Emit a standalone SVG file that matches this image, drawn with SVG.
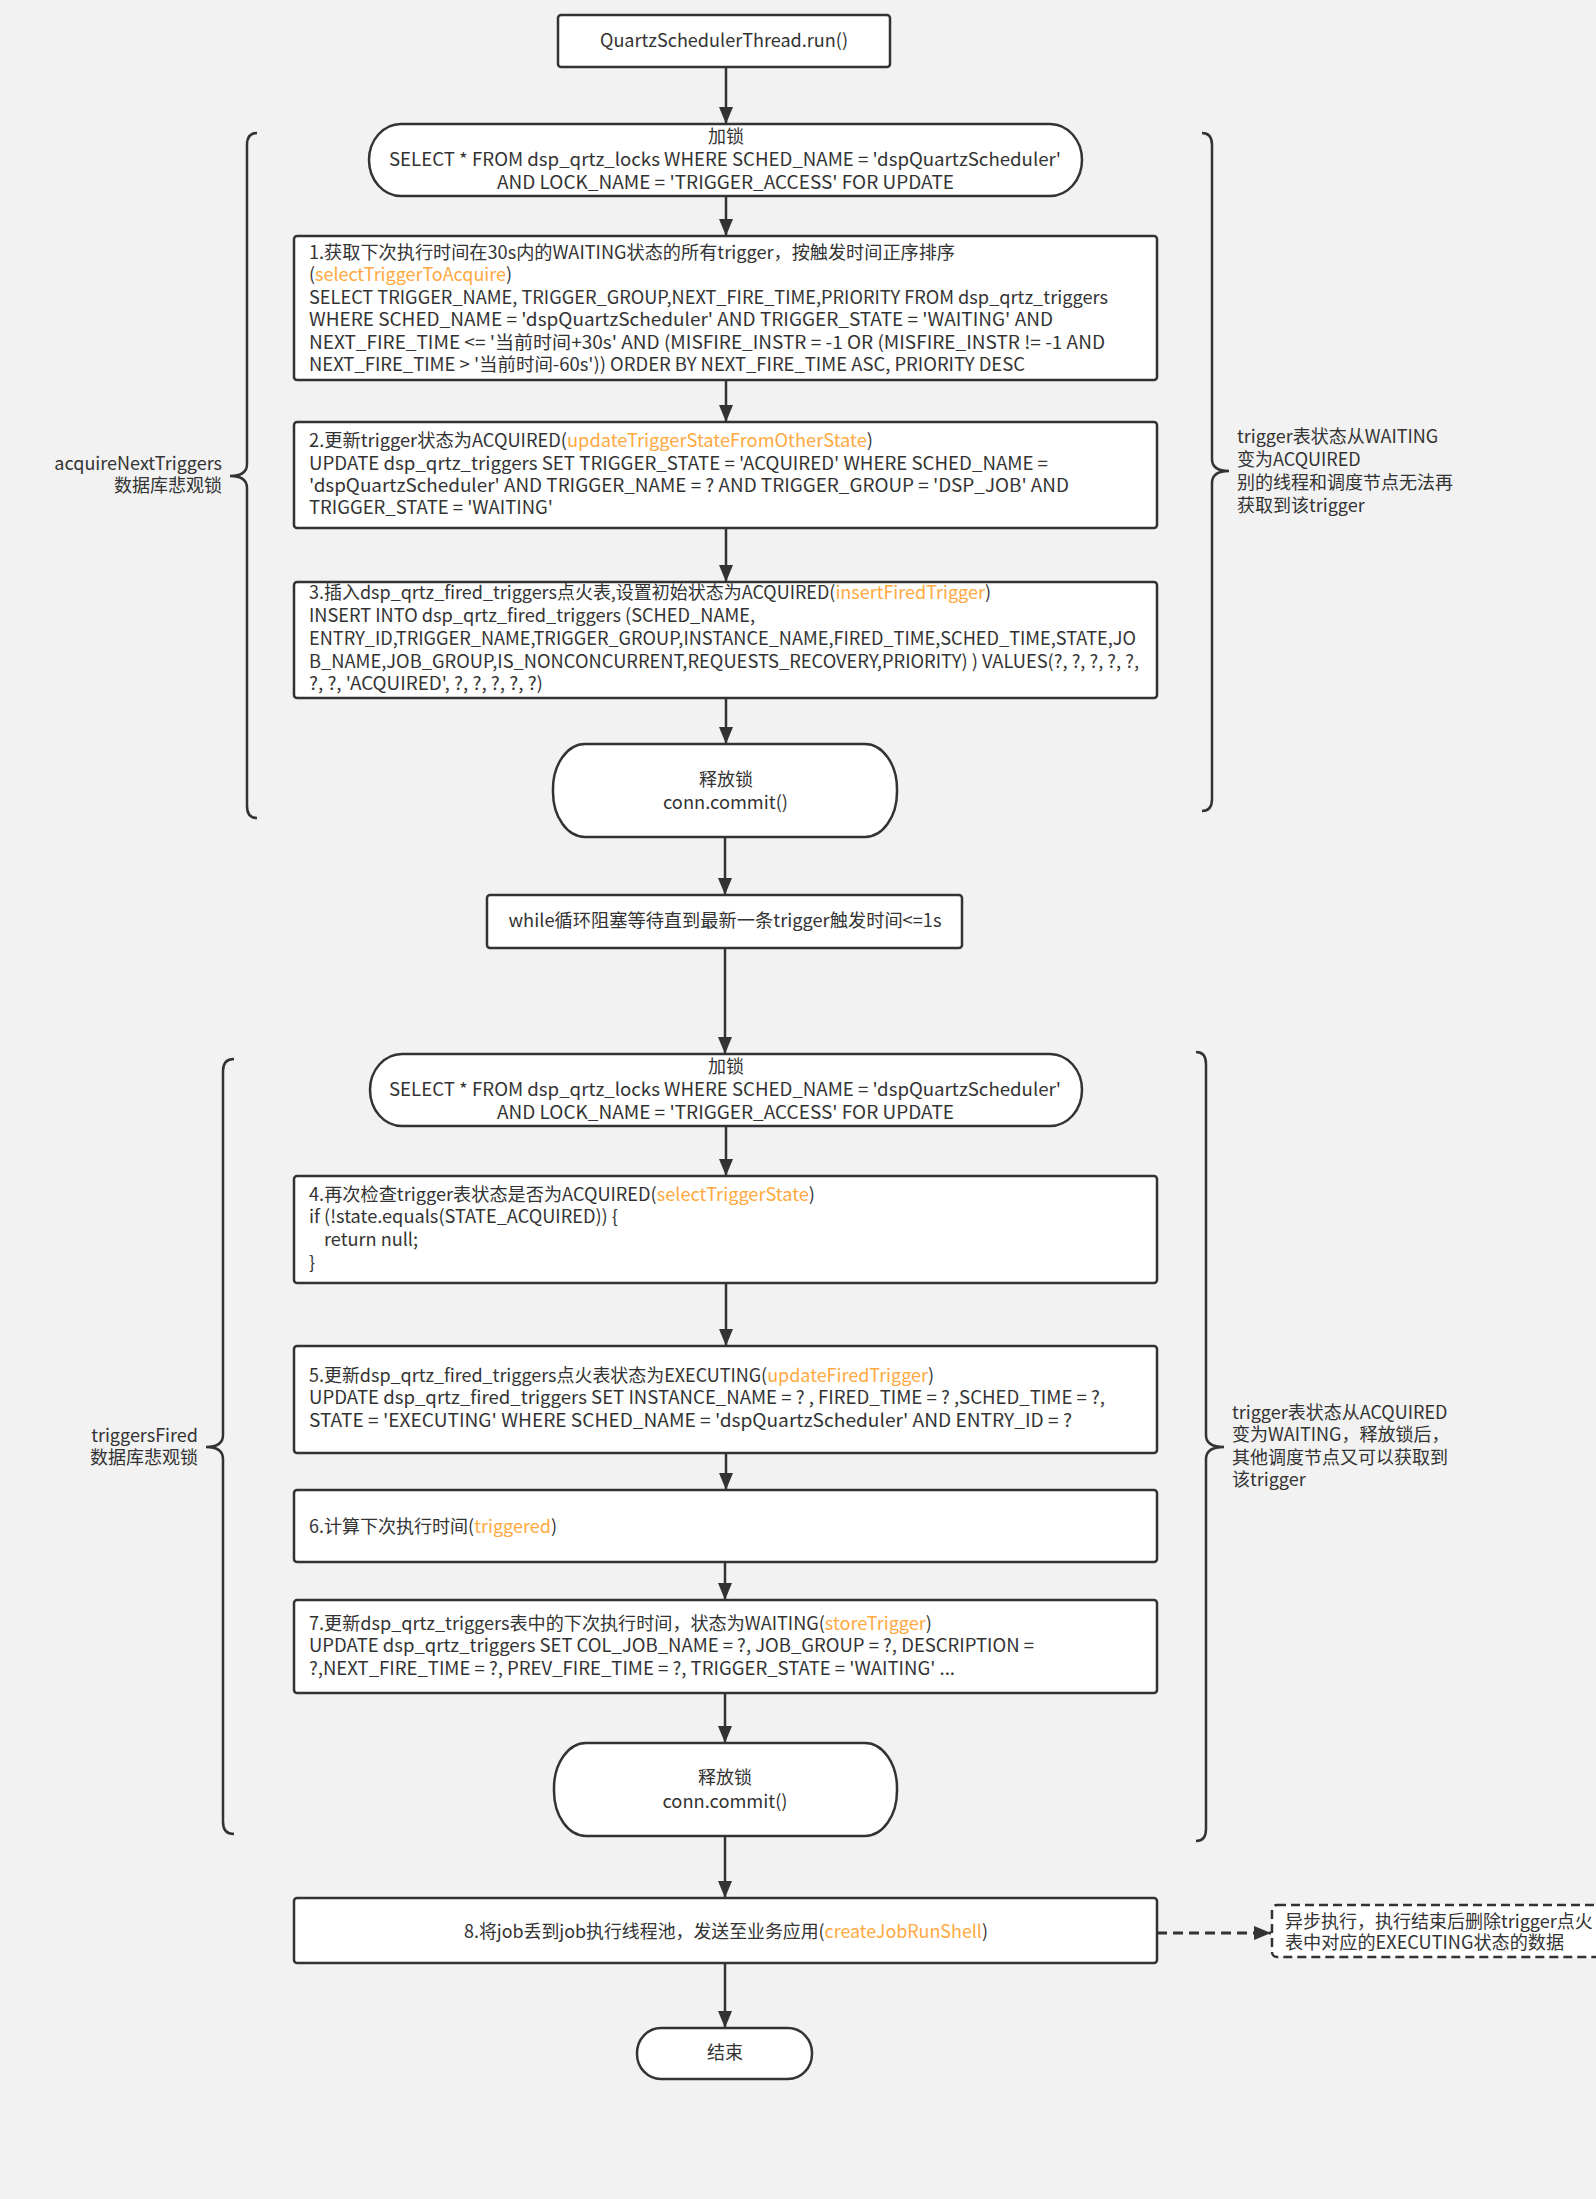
<svg xmlns="http://www.w3.org/2000/svg" width="1596" height="2199" viewBox="0 0 1596 2199" xml:space="preserve">
<defs>
<style>
.bg{fill:#f2f2f2}
.box{fill:#ffffff;stroke:#333333;stroke-width:2.5}
.dbox{fill:#ffffff;stroke:#333333;stroke-width:2.5;stroke-dasharray:9 5}
.t{font-family:"Noto Sans CJK SC","Noto Sans",sans-serif;font-size:18px;fill:#333333}
.c{text-anchor:middle}
.r{text-anchor:end}
.o{fill:#FFA940}
.ln{fill:none;stroke:#333333;stroke-width:2.5}
.dl{fill:none;stroke:#333333;stroke-width:3;stroke-dasharray:10 6}
.br{fill:none;stroke:#333333;stroke-width:2.5}
</style>
<marker id="ah" markerUnits="userSpaceOnUse" markerWidth="18" markerHeight="14" refX="17" refY="7" orient="auto">
<path d="M0,0 L17,7 L0,14 z" fill="#333333"/>
</marker>
</defs>
<rect class="bg" x="0" y="0" width="1596" height="2199"/>

<g id="connectors">
<line class="ln" x1="726" y1="67" x2="726" y2="124" marker-end="url(#ah)"/>
<line class="ln" x1="726" y1="196" x2="726" y2="236" marker-end="url(#ah)"/>
<line class="ln" x1="726" y1="380" x2="726" y2="422" marker-end="url(#ah)"/>
<line class="ln" x1="726" y1="528" x2="726" y2="582" marker-end="url(#ah)"/>
<line class="ln" x1="726" y1="698" x2="726" y2="744" marker-end="url(#ah)"/>
<line class="ln" x1="725" y1="837" x2="725" y2="895" marker-end="url(#ah)"/>
<line class="ln" x1="725" y1="948" x2="725" y2="1054" marker-end="url(#ah)"/>
<line class="ln" x1="726" y1="1126" x2="726" y2="1176" marker-end="url(#ah)"/>
<line class="ln" x1="726" y1="1283" x2="726" y2="1346" marker-end="url(#ah)"/>
<line class="ln" x1="726" y1="1453" x2="726" y2="1490" marker-end="url(#ah)"/>
<line class="ln" x1="725" y1="1562" x2="725" y2="1600" marker-end="url(#ah)"/>
<line class="ln" x1="725" y1="1693" x2="725" y2="1743" marker-end="url(#ah)"/>
<line class="ln" x1="725" y1="1836" x2="725" y2="1898" marker-end="url(#ah)"/>
<line class="ln" x1="725" y1="1963" x2="725" y2="2028" marker-end="url(#ah)"/>
<line class="dl" x1="1157" y1="1933" x2="1271" y2="1933" marker-end="url(#ah)"/>
</g>

<g id="start">
<rect class="box" x="558" y="15" width="332" height="52" rx="3"/>
<text class="t c" x="724" y="47" textLength="248" lengthAdjust="spacingAndGlyphs">QuartzSchedulerThread.run()</text>
</g>

<g id="lock1">
<rect class="box" x="369" y="124" width="713" height="72" rx="32" ry="36"/>
<text class="t c" x="726" y="143">加锁</text>
<text class="t c" x="725" y="166" textLength="672" lengthAdjust="spacingAndGlyphs">SELECT * FROM dsp_qrtz_locks WHERE SCHED_NAME =  'dspQuartzScheduler'</text>
<text class="t c" x="725.5" y="189" textLength="457" lengthAdjust="spacingAndGlyphs">AND LOCK_NAME = 'TRIGGER_ACCESS'  FOR UPDATE</text>
</g>

<g id="step1">
<rect class="box" x="294" y="236" width="863" height="144" rx="3"/>
<text class="t" x="309" y="259" textLength="646" lengthAdjust="spacingAndGlyphs">1.获取下次执行时间在30s内的WAITING状态的所有trigger，按触发时间正序排序</text>
<text class="t" x="309" y="281" textLength="203" lengthAdjust="spacingAndGlyphs">(<tspan class="o">selectTriggerToAcquire</tspan>)</text>
<text class="t" x="309" y="304" textLength="799" lengthAdjust="spacingAndGlyphs">SELECT TRIGGER_NAME, TRIGGER_GROUP,NEXT_FIRE_TIME,PRIORITY FROM dsp_qrtz_triggers</text>
<text class="t" x="309" y="326" textLength="744" lengthAdjust="spacingAndGlyphs">WHERE SCHED_NAME =  'dspQuartzScheduler' AND TRIGGER_STATE = 'WAITING' AND</text>
<text class="t" x="309" y="349" textLength="796" lengthAdjust="spacingAndGlyphs">NEXT_FIRE_TIME &lt;= '当前时间+30s' AND (MISFIRE_INSTR = -1 OR (MISFIRE_INSTR != -1 AND</text>
<text class="t" x="309" y="371" textLength="716" lengthAdjust="spacingAndGlyphs">NEXT_FIRE_TIME &gt; '当前时间-60s')) ORDER BY NEXT_FIRE_TIME ASC, PRIORITY DESC</text>
</g>

<g id="step2">
<rect class="box" x="294" y="422" width="863" height="106" rx="3"/>
<text class="t" x="309" y="447" textLength="564" lengthAdjust="spacingAndGlyphs">2.更新trigger状态为ACQUIRED(<tspan class="o">updateTriggerStateFromOtherState</tspan>)</text>
<text class="t" x="309" y="470" textLength="739" lengthAdjust="spacingAndGlyphs">UPDATE dsp_qrtz_triggers SET TRIGGER_STATE = 'ACQUIRED'  WHERE SCHED_NAME =</text>
<text class="t" x="309" y="492" textLength="760" lengthAdjust="spacingAndGlyphs">'dspQuartzScheduler' AND TRIGGER_NAME = ?  AND TRIGGER_GROUP = 'DSP_JOB' AND</text>
<text class="t" x="309" y="514" textLength="244" lengthAdjust="spacingAndGlyphs">TRIGGER_STATE = 'WAITING'</text>
</g>

<g id="step3">
<rect class="box" x="294" y="582" width="863" height="116" rx="3"/>
<text class="t" x="309" y="599" textLength="682" lengthAdjust="spacingAndGlyphs">3.插入dsp_qrtz_fired_triggers点火表,设置初始状态为ACQUIRED(<tspan class="o">insertFiredTrigger</tspan>)</text>
<text class="t" x="309" y="622" textLength="446" lengthAdjust="spacingAndGlyphs">INSERT INTO dsp_qrtz_fired_triggers (SCHED_NAME,</text>
<text class="t" x="309" y="645" textLength="827" lengthAdjust="spacingAndGlyphs">ENTRY_ID,TRIGGER_NAME,TRIGGER_GROUP,INSTANCE_NAME,FIRED_TIME,SCHED_TIME,STATE,JO</text>
<text class="t" x="309" y="668" textLength="830" lengthAdjust="spacingAndGlyphs">B_NAME,JOB_GROUP,IS_NONCONCURRENT,REQUESTS_RECOVERY,PRIORITY) ) VALUES(?, ?, ?, ?, ?,</text>
<text class="t" x="309" y="690" textLength="234" lengthAdjust="spacingAndGlyphs">?, ?, 'ACQUIRED', ?, ?, ?, ?, ?)</text>
</g>

<g id="release1">
<rect class="box" x="553" y="744" width="344" height="93" rx="32" ry="45"/>
<text class="t c" x="726" y="786">释放锁</text>
<text class="t c" x="725.5" y="809" textLength="125" lengthAdjust="spacingAndGlyphs">conn.commit()</text>
</g>

<g id="wait">
<rect class="box" x="487" y="895" width="475" height="53" rx="3"/>
<text class="t c" x="725" y="927" textLength="433" lengthAdjust="spacingAndGlyphs">while循环阻塞等待直到最新一条trigger触发时间&lt;=1s</text>
</g>

<g id="lock2">
<rect class="box" x="370" y="1054" width="712" height="72" rx="32" ry="36"/>
<text class="t c" x="726" y="1073">加锁</text>
<text class="t c" x="725" y="1096" textLength="672" lengthAdjust="spacingAndGlyphs">SELECT * FROM dsp_qrtz_locks WHERE SCHED_NAME =  'dspQuartzScheduler'</text>
<text class="t c" x="725.5" y="1119" textLength="457" lengthAdjust="spacingAndGlyphs">AND LOCK_NAME = 'TRIGGER_ACCESS'  FOR UPDATE</text>
</g>

<g id="step4">
<rect class="box" x="294" y="1176" width="863" height="107" rx="3"/>
<text class="t" x="309" y="1201" textLength="506" lengthAdjust="spacingAndGlyphs">4.再次检查trigger表状态是否为ACQUIRED(<tspan class="o">selectTriggerState</tspan>)</text>
<text class="t" x="309" y="1223" textLength="309" lengthAdjust="spacingAndGlyphs">if (!state.equals(STATE_ACQUIRED)) {</text>
<text class="t" x="324" y="1246" textLength="94" lengthAdjust="spacingAndGlyphs">return null;</text>
<text class="t" x="309" y="1269">}</text>
</g>

<g id="step5">
<rect class="box" x="294" y="1346" width="863" height="107" rx="3"/>
<text class="t" x="309" y="1382" textLength="625" lengthAdjust="spacingAndGlyphs">5.更新dsp_qrtz_fired_triggers点火表状态为EXECUTING(<tspan class="o">updateFiredTrigger</tspan>)</text>
<text class="t" x="309" y="1404" textLength="796" lengthAdjust="spacingAndGlyphs">UPDATE dsp_qrtz_fired_triggers SET INSTANCE_NAME = ? , FIRED_TIME = ? ,SCHED_TIME = ?,</text>
<text class="t" x="309" y="1427" textLength="763" lengthAdjust="spacingAndGlyphs">STATE = 'EXECUTING'  WHERE SCHED_NAME =  'dspQuartzScheduler' AND ENTRY_ID = ?</text>
</g>

<g id="step6">
<rect class="box" x="294" y="1490" width="863" height="72" rx="3"/>
<text class="t" x="309" y="1533" textLength="248" lengthAdjust="spacingAndGlyphs">6.计算下次执行时间(<tspan class="o">triggered</tspan>)</text>
</g>

<g id="step7">
<rect class="box" x="294" y="1600" width="863" height="93" rx="3"/>
<text class="t" x="309" y="1630" textLength="623" lengthAdjust="spacingAndGlyphs">7.更新dsp_qrtz_triggers表中的下次执行时间，状态为WAITING(<tspan class="o">storeTrigger</tspan>)</text>
<text class="t" x="309" y="1652" textLength="725" lengthAdjust="spacingAndGlyphs">UPDATE dsp_qrtz_triggers SET COL_JOB_NAME = ?, JOB_GROUP = ?, DESCRIPTION =</text>
<text class="t" x="309" y="1675" textLength="646" lengthAdjust="spacingAndGlyphs">?,NEXT_FIRE_TIME = ?, PREV_FIRE_TIME = ?, TRIGGER_STATE = 'WAITING'  ...</text>
</g>

<g id="release2">
<rect class="box" x="554" y="1743" width="343" height="93" rx="32" ry="45"/>
<text class="t c" x="725" y="1784">释放锁</text>
<text class="t c" x="725" y="1808" textLength="125" lengthAdjust="spacingAndGlyphs">conn.commit()</text>
</g>

<g id="step8">
<rect class="box" x="294" y="1898" width="863" height="65" rx="3"/>
<text class="t c" x="726" y="1938" textLength="524" lengthAdjust="spacingAndGlyphs">8.将job丢到job执行线程池，发送至业务应用(<tspan class="o">createJobRunShell</tspan>)</text>
</g>

<g id="async-note">
<rect class="dbox" x="1272" y="1905" width="360" height="52" rx="5"/>
<text class="t" x="1285" y="1928">异步执行，执行结束后删除trigger点火</text>
<text class="t" x="1285" y="1949" textLength="279" lengthAdjust="spacingAndGlyphs">表中对应的EXECUTING状态的数据</text>
</g>

<g id="end">
<rect class="box" x="637" y="2028" width="175" height="51" rx="24" ry="25"/>
<text class="t c" x="725" y="2059">结束</text>
</g>

<g id="brace-acquire">
<path class="br" d="M257,133 Q247,133 247,145 L247,464 Q247,476 230,476 Q247,476 247,488 L247,806 Q247,818 257,818"/>
<text class="t r" x="222" y="470">acquireNextTriggers</text>
<text class="t r" x="222" y="492">数据库悲观锁</text>
</g>

<g id="brace-acquire-note">
<path class="br" d="M1202,133 Q1212,133 1212,145 L1212,459 Q1212,471 1229,471 Q1212,471 1212,483 L1212,799 Q1212,811 1202,811"/>
<text class="t" x="1237" y="443">trigger表状态从WAITING</text>
<text class="t" x="1237" y="466">变为ACQUIRED</text>
<text class="t" x="1237" y="489">别的线程和调度节点无法再</text>
<text class="t" x="1237" y="512">获取到该trigger</text>
</g>

<g id="brace-fired">
<path class="br" d="M234,1059 Q223,1059 223,1071 L223,1435 Q223,1447 206,1447 Q223,1447 223,1459 L223,1822 Q223,1834 234,1834"/>
<text class="t r" x="198" y="1442">triggersFired</text>
<text class="t r" x="198" y="1464">数据库悲观锁</text>
</g>

<g id="brace-fired-note">
<path class="br" d="M1196,1052 Q1206,1052 1206,1064 L1206,1435 Q1206,1447 1224,1447 Q1206,1447 1206,1459 L1206,1829 Q1206,1841 1196,1841"/>
<text class="t" x="1232" y="1419">trigger表状态从ACQUIRED</text>
<text class="t" x="1232" y="1441">变为WAITING，释放锁后，</text>
<text class="t" x="1232" y="1464">其他调度节点又可以获取到</text>
<text class="t" x="1232" y="1486">该trigger</text>
</g>
</svg>
